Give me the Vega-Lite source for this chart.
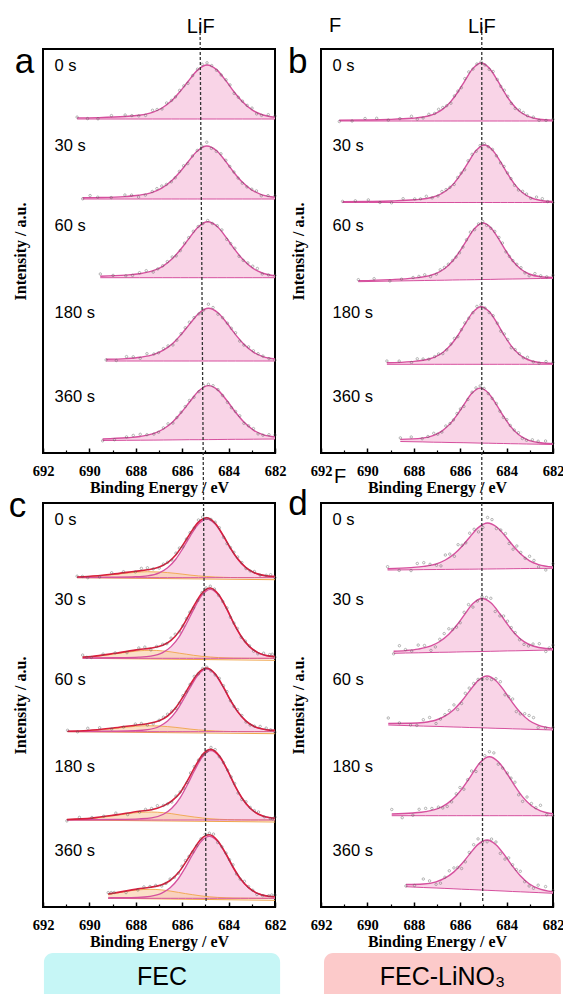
{
"$schema":"https://vega.github.io/schema/vega-lite/v6.json",
"padding":{"left":7,"top":14,"right":0,"bottom":0},
"columns":2,
"spacing":{"row":50,"column":46},
"bounds":"flush",
"config":{
 "view":{"stroke":"#000","strokeWidth":2},
 "axis":{"grid":false,"domain":false,"labelFont":"Liberation Serif","labelFontWeight":"bold","labelFontSize":14.5,"labelColor":"#000","titleFont":"Liberation Serif","titleFontWeight":"bold","titleFontSize":16,"titleColor":"#000","tickColor":"#000"},
 "text":{"font":"Liberation Sans","color":"#000"}
},
"datasets":{
"times":[{"t":"0 s","x":691.5,"y":382},{"t":"30 s","x":691.5,"y":302},{"t":"60 s","x":691.5,"y":222},{"t":"180 s","x":691.5,"y":135},{"t":"360 s","x":691.5,"y":51}],
"bg":[{"t":"0 s","x":690.53,"g":329.3},{"t":"0 s","x":682,"g":327.3},{"t":"30 s","x":690.29,"g":248.7},{"t":"30 s","x":682,"g":246.7},{"t":"60 s","x":690.94,"g":175.3},{"t":"60 s","x":682,"g":173.3},{"t":"180 s","x":690.97,"g":87},{"t":"180 s","x":682,"g":85},{"t":"360 s","x":689.19,"g":8.7},{"t":"360 s","x":682,"g":6.7}],
"pts":[
{"p":"a","x":690.08,"y":334.4},{"p":"a","x":689.05,"y":337.4},{"p":"a","x":688.17,"y":337.4},{"p":"a","x":687.58,"y":337.6},{"p":"a","x":687.08,"y":343.5},{"p":"a","x":686.67,"y":350},{"p":"a","x":686.29,"y":356.1},{"p":"a","x":685.93,"y":367.1},{"p":"a","x":685.55,"y":377.4},{"p":"a","x":685.14,"y":388.7},{"p":"a","x":684.73,"y":387.4},{"p":"a","x":684.32,"y":378},{"p":"a","x":683.94,"y":368.1},{"p":"a","x":683.58,"y":355.7},{"p":"a","x":683.2,"y":347.6},{"p":"a","x":682.79,"y":339.1},{"p":"a","x":682.29,"y":338.3},
{"p":"a","x":689.97,"y":257.4},{"p":"a","x":689.06,"y":255.4},{"p":"a","x":688.18,"y":257.9},{"p":"a","x":687.59,"y":257.9},{"p":"a","x":687.09,"y":264.4},{"p":"a","x":686.68,"y":268.6},{"p":"a","x":686.3,"y":275.2},{"p":"a","x":685.94,"y":287.2},{"p":"a","x":685.56,"y":297},{"p":"a","x":685.15,"y":306.9},{"p":"a","x":684.74,"y":304.6},{"p":"a","x":684.33,"y":299.2},{"p":"a","x":683.95,"y":286.6},{"p":"a","x":683.59,"y":274.9},{"p":"a","x":683.21,"y":266.1},{"p":"a","x":682.8,"y":262.1},{"p":"a","x":682.3,"y":257.4},
{"p":"a","x":688.98,"y":177.6},{"p":"a","x":688.14,"y":177.6},{"p":"a","x":687.55,"y":182.3},{"p":"a","x":687.05,"y":184.1},{"p":"a","x":686.64,"y":191.4},{"p":"a","x":686.26,"y":197.1},{"p":"a","x":685.9,"y":209.9},{"p":"a","x":685.52,"y":221.7},{"p":"a","x":685.11,"y":229.4},{"p":"a","x":684.7,"y":229.5},{"p":"a","x":684.29,"y":223.1},{"p":"a","x":683.91,"y":209.4},{"p":"a","x":683.55,"y":196.7},{"p":"a","x":683.17,"y":190.1},{"p":"a","x":682.76,"y":184.5},{"p":"a","x":682.28,"y":178.1},
{"p":"a","x":688.84,"y":92.5},{"p":"a","x":688.11,"y":96.2},{"p":"a","x":687.52,"y":99.3},{"p":"a","x":687.02,"y":100.2},{"p":"a","x":686.61,"y":107.1},{"p":"a","x":686.23,"y":112.8},{"p":"a","x":685.87,"y":125.2},{"p":"a","x":685.49,"y":135.4},{"p":"a","x":685.08,"y":142.8},{"p":"a","x":684.67,"y":145.5},{"p":"a","x":684.26,"y":135.3},{"p":"a","x":683.88,"y":124.7},{"p":"a","x":683.52,"y":111.9},{"p":"a","x":683.14,"y":106.1},{"p":"a","x":682.73,"y":99.3},{"p":"a","x":682.26,"y":94.4},
{"p":"a","x":688.92,"y":13.3},{"p":"a","x":688.11,"y":17.6},{"p":"a","x":687.52,"y":18.3},{"p":"a","x":687.02,"y":20.8},{"p":"a","x":686.61,"y":29.2},{"p":"a","x":686.23,"y":35.4},{"p":"a","x":685.87,"y":46.4},{"p":"a","x":685.49,"y":55.8},{"p":"a","x":685.08,"y":67.5},{"p":"a","x":684.67,"y":67.3},{"p":"a","x":684.26,"y":57.5},{"p":"a","x":683.88,"y":45.3},{"p":"a","x":683.52,"y":37.2},{"p":"a","x":683.14,"y":27.2},{"p":"a","x":682.73,"y":19.1},{"p":"a","x":682.26,"y":18.3},
{"p":"b","x":690.66,"y":332},{"p":"b","x":689.6,"y":334.7},{"p":"b","x":688.6,"y":334.4},{"p":"b","x":687.85,"y":333.8},{"p":"b","x":687.35,"y":338.7},{"p":"b","x":686.93,"y":343.7},{"p":"b","x":686.58,"y":347.3},{"p":"b","x":686.25,"y":357.1},{"p":"b","x":685.95,"y":365.3},{"p":"b","x":685.63,"y":381.1},{"p":"b","x":685.28,"y":389},{"p":"b","x":684.93,"y":388},{"p":"b","x":684.58,"y":381.5},{"p":"b","x":684.25,"y":366.6},{"p":"b","x":683.95,"y":356.7},{"p":"b","x":683.63,"y":344.5},{"p":"b","x":683.28,"y":340.5},{"p":"b","x":682.85,"y":335.9},{"p":"b","x":682.3,"y":332.6},
{"p":"b","x":690.52,"y":252.2},{"p":"b","x":689.46,"y":250.5},{"p":"b","x":688.46,"y":254.3},{"p":"b","x":687.71,"y":254.1},{"p":"b","x":687.21,"y":255.1},{"p":"b","x":686.79,"y":261.5},{"p":"b","x":686.44,"y":265.7},{"p":"b","x":686.11,"y":275.5},{"p":"b","x":685.81,"y":283.2},{"p":"b","x":685.49,"y":298.7},{"p":"b","x":685.14,"y":307.4},{"p":"b","x":684.79,"y":306.3},{"p":"b","x":684.44,"y":297.2},{"p":"b","x":684.11,"y":286.6},{"p":"b","x":683.81,"y":274.4},{"p":"b","x":683.49,"y":263},{"p":"b","x":683.14,"y":258.9},{"p":"b","x":682.71,"y":255.9},{"p":"b","x":682.23,"y":251.4},
{"p":"b","x":689.71,"y":174.3},{"p":"b","x":688.53,"y":173.8},{"p":"b","x":687.78,"y":176.6},{"p":"b","x":687.28,"y":176.4},{"p":"b","x":686.86,"y":183.2},{"p":"b","x":686.51,"y":188.8},{"p":"b","x":686.18,"y":195.9},{"p":"b","x":685.88,"y":205.9},{"p":"b","x":685.56,"y":220.9},{"p":"b","x":685.21,"y":229.1},{"p":"b","x":684.86,"y":227.6},{"p":"b","x":684.51,"y":221.6},{"p":"b","x":684.18,"y":210},{"p":"b","x":683.88,"y":196.6},{"p":"b","x":683.56,"y":188.7},{"p":"b","x":683.21,"y":180.1},{"p":"b","x":682.78,"y":179.4},{"p":"b","x":682.27,"y":176.2},
{"p":"b","x":688.63,"y":91.9},{"p":"b","x":687.85,"y":94.2},{"p":"b","x":687.35,"y":93.8},{"p":"b","x":686.93,"y":99},{"p":"b","x":686.58,"y":103.1},{"p":"b","x":686.25,"y":114.6},{"p":"b","x":685.95,"y":123.3},{"p":"b","x":685.63,"y":134.8},{"p":"b","x":685.28,"y":146.6},{"p":"b","x":684.93,"y":145},{"p":"b","x":684.58,"y":137.3},{"p":"b","x":684.25,"y":121.8},{"p":"b","x":683.95,"y":113.5},{"p":"b","x":683.63,"y":103.4},{"p":"b","x":683.28,"y":95.2},{"p":"b","x":682.85,"y":91.1},{"p":"b","x":682.3,"y":91.5},
{"p":"b","x":688.11,"y":16},{"p":"b","x":687.39,"y":16.5},{"p":"b","x":686.97,"y":18.8},{"p":"b","x":686.62,"y":27},{"p":"b","x":686.29,"y":33.1},{"p":"b","x":685.99,"y":44.1},{"p":"b","x":685.67,"y":53.5},{"p":"b","x":685.32,"y":65.1},{"p":"b","x":684.97,"y":64.6},{"p":"b","x":684.62,"y":54.5},{"p":"b","x":684.29,"y":41.8},{"p":"b","x":683.99,"y":33.4},{"p":"b","x":683.67,"y":23},{"p":"b","x":683.32,"y":14.5},{"p":"b","x":682.89,"y":13.2},{"p":"b","x":682.32,"y":12},
{"p":"c","x":690.3,"y":330.6},{"p":"c","x":689.56,"y":330},{"p":"c","x":688.53,"y":335.3},{"p":"c","x":687.76,"y":338.6},{"p":"c","x":687.25,"y":338.1},{"p":"c","x":686.81,"y":342.9},{"p":"c","x":686.45,"y":347},{"p":"c","x":686.12,"y":358.9},{"p":"c","x":685.82,"y":368},{"p":"c","x":685.48,"y":379.1},{"p":"c","x":685.12,"y":390},{"p":"c","x":684.76,"y":387.6},{"p":"c","x":684.4,"y":379.3},{"p":"c","x":684.07,"y":363.3},{"p":"c","x":683.77,"y":354.8},{"p":"c","x":683.43,"y":344.4},{"p":"c","x":683.07,"y":336},{"p":"c","x":682.64,"y":331.8},{"p":"c","x":682.19,"y":332.3},
{"p":"c","x":690.11,"y":249.7},{"p":"c","x":689.41,"y":252.9},{"p":"c","x":688.38,"y":254.3},{"p":"c","x":687.61,"y":259.9},{"p":"c","x":687.1,"y":260.6},{"p":"c","x":686.66,"y":263.3},{"p":"c","x":686.3,"y":272.8},{"p":"c","x":685.97,"y":281.2},{"p":"c","x":685.67,"y":294.8},{"p":"c","x":685.33,"y":306.5},{"p":"c","x":684.97,"y":319.1},{"p":"c","x":684.61,"y":317.9},{"p":"c","x":684.25,"y":305.4},{"p":"c","x":683.92,"y":289.7},{"p":"c","x":683.62,"y":278.5},{"p":"c","x":683.28,"y":265.9},{"p":"c","x":682.92,"y":255.8},{"p":"c","x":682.49,"y":253.8},{"p":"c","x":682.12,"y":252.8},
{"p":"c","x":690.51,"y":175.2},{"p":"c","x":689.56,"y":179.2},{"p":"c","x":688.53,"y":179.9},{"p":"c","x":687.76,"y":183.5},{"p":"c","x":687.25,"y":183.1},{"p":"c","x":686.81,"y":189.8},{"p":"c","x":686.45,"y":195.9},{"p":"c","x":686.12,"y":204},{"p":"c","x":685.82,"y":215.2},{"p":"c","x":685.48,"y":230.6},{"p":"c","x":685.12,"y":238.5},{"p":"c","x":684.76,"y":236},{"p":"c","x":684.4,"y":228.6},{"p":"c","x":684.07,"y":215.4},{"p":"c","x":683.77,"y":200.6},{"p":"c","x":683.43,"y":191.5},{"p":"c","x":683.07,"y":181.9},{"p":"c","x":682.64,"y":180.6},{"p":"c","x":682.19,"y":177.2},
{"p":"c","x":690.43,"y":89.6},{"p":"c","x":689.38,"y":90.8},{"p":"c","x":688.35,"y":92.4},{"p":"c","x":687.58,"y":97.6},{"p":"c","x":687.07,"y":101.3},{"p":"c","x":686.63,"y":103.1},{"p":"c","x":686.27,"y":110.9},{"p":"c","x":685.94,"y":118.7},{"p":"c","x":685.64,"y":134},{"p":"c","x":685.3,"y":146.9},{"p":"c","x":684.94,"y":155.5},{"p":"c","x":684.58,"y":157.4},{"p":"c","x":684.22,"y":144.4},{"p":"c","x":683.89,"y":130.1},{"p":"c","x":683.59,"y":113.9},{"p":"c","x":683.25,"y":105.2},{"p":"c","x":682.89,"y":96.4},{"p":"c","x":682.46,"y":90.2},{"p":"c","x":682.1,"y":88.1},
{"p":"c","x":689.06,"y":14.4},{"p":"c","x":688.42,"y":14.4},{"p":"c","x":687.65,"y":20.1},{"p":"c","x":687.14,"y":21.6},{"p":"c","x":686.7,"y":23.6},{"p":"c","x":686.34,"y":29.6},{"p":"c","x":686.01,"y":40.8},{"p":"c","x":685.71,"y":50.5},{"p":"c","x":685.37,"y":61.3},{"p":"c","x":685.01,"y":72.6},{"p":"c","x":684.65,"y":72.9},{"p":"c","x":684.29,"y":60.2},{"p":"c","x":683.96,"y":47.3},{"p":"c","x":683.66,"y":33},{"p":"c","x":683.32,"y":25.7},{"p":"c","x":682.96,"y":16.8},{"p":"c","x":682.53,"y":11.3},{"p":"c","x":682.14,"y":12},
{"p":"d","x":688.63,"y":336.6},{"p":"d","x":687.85,"y":343.5},{"p":"d","x":687.3,"y":342.7},{"p":"d","x":686.83,"y":341.1},{"p":"d","x":686.45,"y":352.9},{"p":"d","x":686.09,"y":362.3},{"p":"d","x":685.76,"y":364.1},{"p":"d","x":685.4,"y":377.7},{"p":"d","x":685.02,"y":379.6},{"p":"d","x":684.63,"y":387.4},{"p":"d","x":684.25,"y":377},{"p":"d","x":683.89,"y":363.5},{"p":"d","x":683.56,"y":361},{"p":"d","x":683.2,"y":348.7},{"p":"d","x":682.82,"y":346.6},{"p":"d","x":682.31,"y":337},
{"p":"d","x":688.62,"y":261.3},{"p":"d","x":688.09,"y":255.9},{"p":"d","x":687.54,"y":261.5},{"p":"d","x":687.07,"y":260.1},{"p":"d","x":686.69,"y":273.4},{"p":"d","x":686.33,"y":277.6},{"p":"d","x":686,"y":284.2},{"p":"d","x":685.64,"y":302.4},{"p":"d","x":685.26,"y":305.9},{"p":"d","x":684.87,"y":309.6},{"p":"d","x":684.49,"y":295.5},{"p":"d","x":684.13,"y":291},{"p":"d","x":683.8,"y":279.4},{"p":"d","x":683.44,"y":267.3},{"p":"d","x":683.06,"y":261},{"p":"d","x":682.59,"y":263.3},{"p":"d","x":682.16,"y":259.1},
{"p":"d","x":688.62,"y":184.1},{"p":"d","x":687.87,"y":181.6},{"p":"d","x":687.32,"y":189.5},{"p":"d","x":686.85,"y":187.9},{"p":"d","x":686.47,"y":196.5},{"p":"d","x":686.11,"y":197.5},{"p":"d","x":685.78,"y":213.7},{"p":"d","x":685.42,"y":223.5},{"p":"d","x":685.04,"y":227.7},{"p":"d","x":684.65,"y":227.4},{"p":"d","x":684.27,"y":225.3},{"p":"d","x":683.91,"y":210.5},{"p":"d","x":683.58,"y":195.4},{"p":"d","x":683.22,"y":193.3},{"p":"d","x":682.84,"y":189.4},{"p":"d","x":682.32,"y":179},
{"p":"d","x":688.5,"y":89.3},{"p":"d","x":687.77,"y":97.7},{"p":"d","x":687.22,"y":98.5},{"p":"d","x":686.75,"y":99},{"p":"d","x":686.37,"y":105.1},{"p":"d","x":686.01,"y":119.5},{"p":"d","x":685.68,"y":127.3},{"p":"d","x":685.32,"y":135.5},{"p":"d","x":684.94,"y":151.3},{"p":"d","x":684.55,"y":154.1},{"p":"d","x":684.17,"y":138.9},{"p":"d","x":683.81,"y":128.9},{"p":"d","x":683.48,"y":112.2},{"p":"d","x":683.12,"y":110},{"p":"d","x":682.74,"y":99.3},{"p":"d","x":682.27,"y":92.2},
{"p":"d","x":687.97,"y":21.5},{"p":"d","x":687.32,"y":26.1},{"p":"d","x":686.85,"y":23.8},{"p":"d","x":686.47,"y":36.2},{"p":"d","x":686.11,"y":39.6},{"p":"d","x":685.78,"y":45.2},{"p":"d","x":685.42,"y":62.3},{"p":"d","x":685.04,"y":64.8},{"p":"d","x":684.65,"y":67.9},{"p":"d","x":684.27,"y":53.6},{"p":"d","x":683.91,"y":49.1},{"p":"d","x":683.58,"y":37.5},{"p":"d","x":683.22,"y":25.3},{"p":"d","x":682.84,"y":18.7},{"p":"d","x":682.32,"y":20.4}
],
"fit":[
{"p":"a","t":"0 s","x":690.53,"f":335.1,"b":334,"s":335.9},
{"p":"a","t":"0 s","x":689.63,"f":335.4,"b":334,"s":334.2},
{"p":"a","t":"0 s","x":688.46,"f":336.5,"b":334,"s":338},
{"p":"a","t":"0 s","x":687.87,"f":337.7,"b":334,"s":337.1},
{"p":"a","t":"0 s","x":687.28,"f":340.7,"b":334,"s":342.7},
{"p":"a","t":"0 s","x":686.87,"f":345,"b":334,"s":344},
{"p":"a","t":"0 s","x":686.46,"f":352.2,"b":334,"s":352.6},
{"p":"a","t":"0 s","x":686.11,"f":361,"b":334,"s":362.6},
{"p":"a","t":"0 s","x":685.75,"f":371.5,"b":334,"s":369.7},
{"p":"a","t":"0 s","x":685.34,"f":382.9,"b":334,"s":383.8},
{"p":"a","t":"0 s","x":684.93,"f":388,"b":334,"s":390.2},
{"p":"a","t":"0 s","x":684.52,"f":383.4,"b":334,"s":382.7},
{"p":"a","t":"0 s","x":684.11,"f":372.1,"b":334,"s":373.2},
{"p":"a","t":"0 s","x":683.76,"f":361,"b":334,"s":359.6},
{"p":"a","t":"0 s","x":683.4,"f":351.2,"b":334,"s":351.8},
{"p":"a","t":"0 s","x":682.99,"f":343.1,"b":334,"s":344.9},
{"p":"a","t":"0 s","x":682.58,"f":338.5,"b":334,"s":337.6},
{"p":"a","t":"0 s","x":682,"f":335.7,"b":334,"s":337},
{"p":"a","t":"30 s","x":690.29,"f":255.2,"b":254,"s":254.2},
{"p":"a","t":"30 s","x":689.64,"f":255.4,"b":254,"s":255.8},
{"p":"a","t":"30 s","x":688.47,"f":256.4,"b":254,"s":258},
{"p":"a","t":"30 s","x":687.88,"f":257.7,"b":254,"s":255.9},
{"p":"a","t":"30 s","x":687.29,"f":260.6,"b":254,"s":261.5},
{"p":"a","t":"30 s","x":686.88,"f":264.8,"b":254,"s":267},
{"p":"a","t":"30 s","x":686.47,"f":271.9,"b":254,"s":271.2},
{"p":"a","t":"30 s","x":686.12,"f":280.5,"b":254,"s":281.6},
{"p":"a","t":"30 s","x":685.76,"f":290.8,"b":254,"s":289.4},
{"p":"a","t":"30 s","x":685.35,"f":302,"b":254,"s":302.6},
{"p":"a","t":"30 s","x":684.94,"f":307,"b":254,"s":310.8},
{"p":"a","t":"30 s","x":684.53,"f":302.5,"b":254,"s":301.6},
{"p":"a","t":"30 s","x":684.12,"f":291.4,"b":254,"s":292.7},
{"p":"a","t":"30 s","x":683.77,"f":280.5,"b":254,"s":281},
{"p":"a","t":"30 s","x":683.41,"f":270.9,"b":254,"s":269.8},
{"p":"a","t":"30 s","x":683,"f":263,"b":254,"s":263.8},
{"p":"a","t":"30 s","x":682.59,"f":258.4,"b":254,"s":257.2},
{"p":"a","t":"30 s","x":682,"f":255.7,"b":254,"s":257.2},
{"p":"a","t":"60 s","x":689.53,"f":176.8,"b":175.3,"s":179},
{"p":"a","t":"60 s","x":688.43,"f":177.9,"b":175.3,"s":177.2},
{"p":"a","t":"60 s","x":687.84,"f":179.2,"b":175.3,"s":180.3},
{"p":"a","t":"60 s","x":687.25,"f":182.3,"b":175.3,"s":180.9},
{"p":"a","t":"60 s","x":686.84,"f":186.7,"b":175.3,"s":187.3},
{"p":"a","t":"60 s","x":686.43,"f":194.2,"b":175.3,"s":196},
{"p":"a","t":"60 s","x":686.08,"f":203.3,"b":175.3,"s":202.4},
{"p":"a","t":"60 s","x":685.72,"f":214.1,"b":175.3,"s":215.4},
{"p":"a","t":"60 s","x":685.31,"f":226,"b":175.3,"s":226.5},
{"p":"a","t":"60 s","x":684.9,"f":231.3,"b":175.3,"s":232.5},
{"p":"a","t":"60 s","x":684.49,"f":226.5,"b":175.3,"s":227.3},
{"p":"a","t":"60 s","x":684.08,"f":214.8,"b":175.3,"s":213.6},
{"p":"a","t":"60 s","x":683.73,"f":203.3,"b":175.3,"s":204.8},
{"p":"a","t":"60 s","x":683.37,"f":193.2,"b":175.3,"s":192.6},
{"p":"a","t":"60 s","x":682.96,"f":184.8,"b":175.3,"s":186.8},
{"p":"a","t":"60 s","x":682.55,"f":180,"b":175.3,"s":179},
{"p":"a","t":"60 s","x":682,"f":177.2,"b":175.3,"s":177.6},
{"p":"a","t":"180 s","x":689.28,"f":93.7,"b":92,"s":93.1},
{"p":"a","t":"180 s","x":688.4,"f":94.4,"b":92,"s":96.4},
{"p":"a","t":"180 s","x":687.81,"f":95.7,"b":92,"s":94.7},
{"p":"a","t":"180 s","x":687.22,"f":98.6,"b":92,"s":99},
{"p":"a","t":"180 s","x":686.81,"f":102.8,"b":92,"s":104.4},
{"p":"a","t":"180 s","x":686.4,"f":109.8,"b":92,"s":108},
{"p":"a","t":"180 s","x":686.05,"f":118.4,"b":92,"s":119.3},
{"p":"a","t":"180 s","x":685.69,"f":128.6,"b":92,"s":130.8},
{"p":"a","t":"180 s","x":685.28,"f":139.8,"b":92,"s":139.1},
{"p":"a","t":"180 s","x":684.87,"f":144.7,"b":92,"s":148.8},
{"p":"a","t":"180 s","x":684.46,"f":140.2,"b":92,"s":138.8},
{"p":"a","t":"180 s","x":684.05,"f":129.2,"b":92,"s":129.8},
{"p":"a","t":"180 s","x":683.7,"f":118.4,"b":92,"s":120.2},
{"p":"a","t":"180 s","x":683.34,"f":108.8,"b":92,"s":107.9},
{"p":"a","t":"180 s","x":682.93,"f":100.9,"b":92,"s":102.2},
{"p":"a","t":"180 s","x":682.52,"f":96.4,"b":92,"s":96.9},
{"p":"a","t":"180 s","x":682,"f":94,"b":92,"s":92.9},
{"p":"a","t":"360 s","x":689.43,"f":14,"b":12.5,"s":12.2},
{"p":"a","t":"360 s","x":688.4,"f":15.2,"b":12.7,"s":16.1},
{"p":"a","t":"360 s","x":687.81,"f":16.5,"b":12.8,"s":18.7},
{"p":"a","t":"360 s","x":687.22,"f":19.6,"b":12.9,"s":18.9},
{"p":"a","t":"360 s","x":686.81,"f":24,"b":13,"s":25.1},
{"p":"a","t":"360 s","x":686.4,"f":31.3,"b":13.1,"s":29.9},
{"p":"a","t":"360 s","x":686.05,"f":40.2,"b":13.2,"s":40.8},
{"p":"a","t":"360 s","x":685.69,"f":50.7,"b":13.3,"s":52.5},
{"p":"a","t":"360 s","x":685.28,"f":62.2,"b":13.3,"s":61.3},
{"p":"a","t":"360 s","x":684.87,"f":67.4,"b":13.4,"s":68.7},
{"p":"a","t":"360 s","x":684.46,"f":62.9,"b":13.5,"s":63.4},
{"p":"a","t":"360 s","x":684.05,"f":51.7,"b":13.6,"s":50.6},
{"p":"a","t":"360 s","x":683.7,"f":40.7,"b":13.7,"s":41.5},
{"p":"a","t":"360 s","x":683.34,"f":30.9,"b":13.7,"s":29.7},
{"p":"a","t":"360 s","x":682.93,"f":22.9,"b":13.8,"s":24.4},
{"p":"a","t":"360 s","x":682.52,"f":18.4,"b":13.9,"s":17.8},
{"p":"a","t":"360 s","x":682,"f":16,"b":14,"s":18},
{"p":"b","t":"0 s","x":691.21,"f":332.7,"b":332,"s":331.5},
{"p":"b","t":"0 s","x":690.1,"f":333,"b":332,"s":334.5},
{"p":"b","t":"0 s","x":689.1,"f":333.5,"b":332,"s":332.9},
{"p":"b","t":"0 s","x":688.1,"f":334.7,"b":332,"s":336.7},
{"p":"b","t":"0 s","x":687.6,"f":336,"b":332,"s":335},
{"p":"b","t":"0 s","x":687.1,"f":339.2,"b":332,"s":339.6},
{"p":"b","t":"0 s","x":686.75,"f":343.9,"b":332,"s":345.5},
{"p":"b","t":"0 s","x":686.4,"f":351.6,"b":332,"s":349.8},
{"p":"b","t":"0 s","x":686.1,"f":361,"b":332,"s":361.9},
{"p":"b","t":"0 s","x":685.8,"f":372.2,"b":332,"s":374.4},
{"p":"b","t":"0 s","x":685.45,"f":384.6,"b":332,"s":383.9},
{"p":"b","t":"0 s","x":685.1,"f":390,"b":332,"s":391.1},
{"p":"b","t":"0 s","x":684.75,"f":385,"b":332,"s":383.6},
{"p":"b","t":"0 s","x":684.4,"f":372.9,"b":332,"s":373.5},
{"p":"b","t":"0 s","x":684.1,"f":361,"b":332,"s":362.8},
{"p":"b","t":"0 s","x":683.8,"f":350.5,"b":332,"s":349.6},
{"p":"b","t":"0 s","x":683.45,"f":341.8,"b":332,"s":343.1},
{"p":"b","t":"0 s","x":683.1,"f":336.8,"b":332,"s":337.3},
{"p":"b","t":"0 s","x":682.6,"f":333.8,"b":332,"s":332.7},
{"p":"b","t":"0 s","x":682,"f":332.9,"b":332,"s":333.7},
{"p":"b","t":"30 s","x":691.07,"f":251.2,"b":250.5,"s":251.6},
{"p":"b","t":"30 s","x":689.96,"f":251.5,"b":250.5,"s":253.1},
{"p":"b","t":"30 s","x":688.96,"f":252,"b":250.5,"s":250.2},
{"p":"b","t":"30 s","x":687.96,"f":253.2,"b":250.5,"s":254.1},
{"p":"b","t":"30 s","x":687.46,"f":254.5,"b":250.5,"s":256.7},
{"p":"b","t":"30 s","x":686.96,"f":257.7,"b":250.5,"s":257},
{"p":"b","t":"30 s","x":686.61,"f":262.3,"b":250.5,"s":263.4},
{"p":"b","t":"30 s","x":686.26,"f":269.9,"b":250.5,"s":268.5},
{"p":"b","t":"30 s","x":685.96,"f":279.3,"b":250.5,"s":279.9},
{"p":"b","t":"30 s","x":685.66,"f":290.4,"b":250.5,"s":292.2},
{"p":"b","t":"30 s","x":685.31,"f":302.6,"b":250.5,"s":301.7},
{"p":"b","t":"30 s","x":684.96,"f":308,"b":250.5,"s":309.3},
{"p":"b","t":"30 s","x":684.61,"f":303.1,"b":250.5,"s":303.6},
{"p":"b","t":"30 s","x":684.26,"f":291.1,"b":250.5,"s":290},
{"p":"b","t":"30 s","x":683.96,"f":279.3,"b":250.5,"s":280.1},
{"p":"b","t":"30 s","x":683.66,"f":268.9,"b":250.5,"s":267.7},
{"p":"b","t":"30 s","x":683.31,"f":260.2,"b":250.5,"s":261.7},
{"p":"b","t":"30 s","x":682.96,"f":255.3,"b":250.5,"s":254.7},
{"p":"b","t":"30 s","x":682.46,"f":252.3,"b":250.5,"s":254.3},
{"p":"b","t":"30 s","x":682,"f":251.5,"b":250.5,"s":250.5},
{"p":"b","t":"60 s","x":690.39,"f":172.2,"b":171.3,"s":173.3},
{"p":"b","t":"60 s","x":689.03,"f":173.4,"b":171.9,"s":172},
{"p":"b","t":"60 s","x":688.03,"f":174.9,"b":172.3,"s":175.5},
{"p":"b","t":"60 s","x":687.53,"f":176.4,"b":172.5,"s":178.2},
{"p":"b","t":"60 s","x":687.03,"f":179.7,"b":172.7,"s":178.8},
{"p":"b","t":"60 s","x":686.68,"f":184.3,"b":172.8,"s":185.6},
{"p":"b","t":"60 s","x":686.33,"f":192,"b":173,"s":192.5},
{"p":"b","t":"60 s","x":686.03,"f":201.3,"b":173.1,"s":200.2},
{"p":"b","t":"60 s","x":685.73,"f":212.4,"b":173.2,"s":213.2},
{"p":"b","t":"60 s","x":685.38,"f":224.5,"b":173.3,"s":223.3},
{"p":"b","t":"60 s","x":685.03,"f":230,"b":173.5,"s":231.5},
{"p":"b","t":"60 s","x":684.68,"f":225.3,"b":173.6,"s":224.7},
{"p":"b","t":"60 s","x":684.33,"f":213.6,"b":173.8,"s":215.6},
{"p":"b","t":"60 s","x":684.03,"f":202.1,"b":173.9,"s":201.1},
{"p":"b","t":"60 s","x":683.73,"f":192,"b":174,"s":192.4},
{"p":"b","t":"60 s","x":683.38,"f":183.7,"b":174.1,"s":185.3},
{"p":"b","t":"60 s","x":683.03,"f":179,"b":174.3,"s":177.2},
{"p":"b","t":"60 s","x":682.53,"f":176.3,"b":174.5,"s":177.2},
{"p":"b","t":"60 s","x":682,"f":175.6,"b":174.7,"s":177.8},
{"p":"b","t":"180 s","x":689.16,"f":90.2,"b":88.7,"s":92},
{"p":"b","t":"180 s","x":688.1,"f":91.4,"b":88.7,"s":90.5},
{"p":"b","t":"180 s","x":687.6,"f":92.7,"b":88.7,"s":94},
{"p":"b","t":"180 s","x":687.1,"f":95.9,"b":88.7,"s":96.4},
{"p":"b","t":"180 s","x":686.75,"f":100.5,"b":88.7,"s":99.4},
{"p":"b","t":"180 s","x":686.4,"f":108.2,"b":88.7,"s":109},
{"p":"b","t":"180 s","x":686.1,"f":117.5,"b":88.7,"s":116.3},
{"p":"b","t":"180 s","x":685.8,"f":128.6,"b":88.7,"s":130.1},
{"p":"b","t":"180 s","x":685.45,"f":140.9,"b":88.7,"s":140.3},
{"p":"b","t":"180 s","x":685.1,"f":146.3,"b":88.7,"s":148.3},
{"p":"b","t":"180 s","x":684.75,"f":141.4,"b":88.7,"s":140.4},
{"p":"b","t":"180 s","x":684.4,"f":129.4,"b":88.7,"s":129.8},
{"p":"b","t":"180 s","x":684.1,"f":117.5,"b":88.7,"s":119.1},
{"p":"b","t":"180 s","x":683.8,"f":107.1,"b":88.7,"s":105.3},
{"p":"b","t":"180 s","x":683.45,"f":98.5,"b":88.7,"s":99.4},
{"p":"b","t":"180 s","x":683.1,"f":93.5,"b":88.7,"s":95.7},
{"p":"b","t":"180 s","x":682.6,"f":90.5,"b":88.7,"s":89.8},
{"p":"b","t":"180 s","x":682,"f":89.6,"b":88.7,"s":90.7},
{"p":"b","t":"360 s","x":688.58,"f":13.6,"b":11.5,"s":15.1},
{"p":"b","t":"360 s","x":687.64,"f":14.9,"b":11.1,"s":14.3},
{"p":"b","t":"360 s","x":687.14,"f":17.7,"b":10.8,"s":19.7},
{"p":"b","t":"360 s","x":686.79,"f":21.9,"b":10.7,"s":20.9},
{"p":"b","t":"360 s","x":686.44,"f":29.1,"b":10.5,"s":29.5},
{"p":"b","t":"360 s","x":686.14,"f":37.9,"b":10.4,"s":39.5},
{"p":"b","t":"360 s","x":685.84,"f":48.4,"b":10.3,"s":46.6},
{"p":"b","t":"360 s","x":685.49,"f":59.9,"b":10.1,"s":60.8},
{"p":"b","t":"360 s","x":685.14,"f":64.9,"b":9.9,"s":67.1},
{"p":"b","t":"360 s","x":684.79,"f":60.1,"b":9.8,"s":59.4},
{"p":"b","t":"360 s","x":684.44,"f":48.4,"b":9.6,"s":49.5},
{"p":"b","t":"360 s","x":684.14,"f":37,"b":9.5,"s":35.6},
{"p":"b","t":"360 s","x":683.84,"f":26.9,"b":9.3,"s":27.5},
{"p":"b","t":"360 s","x":683.49,"f":18.5,"b":9.2,"s":20.3},
{"p":"b","t":"360 s","x":683.14,"f":13.6,"b":9,"s":12.7},
{"p":"b","t":"360 s","x":682.64,"f":10.5,"b":8.8,"s":11.8},
{"p":"b","t":"360 s","x":682,"f":9.3,"b":8.5,"s":9.8},
{"p":"c","t":"0 s","x":690.53,"f":329.6,"o":329.7,"e":330,"b":329.3,"s":330.8},
{"p":"c","t":"0 s","x":690.07,"f":329.6,"o":330.2,"e":330.5,"b":329.3,"s":329.3},
{"p":"c","t":"0 s","x":689.04,"f":329.8,"o":332.2,"e":332.7,"b":329.3,"s":334.2},
{"p":"c","t":"0 s","x":688.02,"f":330.3,"o":334.7,"e":335.7,"b":329.3,"s":335.1},
{"p":"c","t":"0 s","x":687.5,"f":331.2,"o":335.3,"e":337.2,"b":329.3,"s":339.2},
{"p":"c","t":"0 s","x":686.99,"f":334.2,"o":335,"e":339.9,"b":329.3,"s":338.9},
{"p":"c","t":"0 s","x":686.63,"f":339.2,"o":334.4,"e":344.3,"b":329.3,"s":344.7},
{"p":"c","t":"0 s","x":686.27,"f":348,"o":333.6,"e":352.3,"b":329.3,"s":353.9},
{"p":"c","t":"0 s","x":685.97,"f":358.7,"o":332.8,"e":362.1,"b":329.3,"s":360.3},
{"p":"c","t":"0 s","x":685.66,"f":370.7,"o":331.9,"e":373.4,"b":329.3,"s":374.3},
{"p":"c","t":"0 s","x":685.3,"f":383,"o":331.1,"e":384.8,"b":329.3,"s":387},
{"p":"c","t":"0 s","x":684.94,"f":388,"o":330.5,"e":389.2,"b":329.3,"s":388.5},
{"p":"c","t":"0 s","x":684.58,"f":383,"o":330,"e":383.7,"b":329.3,"s":384.8},
{"p":"c","t":"0 s","x":684.22,"f":370.7,"o":329.7,"e":371.1,"b":329.3,"s":369.7},
{"p":"c","t":"0 s","x":683.92,"f":358.7,"o":329.5,"e":358.9,"b":329.3,"s":359.5},
{"p":"c","t":"0 s","x":683.61,"f":348,"o":329.4,"e":348.2,"b":329.3,"s":350},
{"p":"c","t":"0 s","x":683.25,"f":339.2,"o":329.3,"e":339.3,"b":329.3,"s":338.4},
{"p":"c","t":"0 s","x":682.89,"f":334.2,"o":329.3,"e":334.2,"b":329.3,"s":335.5},
{"p":"c","t":"0 s","x":682.38,"f":331.2,"o":329.3,"e":331.2,"b":329.3,"s":331.7},
{"p":"c","t":"0 s","x":682,"f":330.5,"o":329.3,"e":330.5,"b":329.3,"s":329.4},
{"p":"c","t":"30 s","x":690.29,"f":249.1,"o":249.5,"e":249.9,"b":248.7,"s":251.9},
{"p":"c","t":"30 s","x":689.92,"f":249.1,"o":250.1,"e":250.5,"b":248.7,"s":249.5},
{"p":"c","t":"30 s","x":688.89,"f":249.3,"o":253.1,"e":253.7,"b":248.7,"s":254.1},
{"p":"c","t":"30 s","x":687.87,"f":249.9,"o":256.2,"e":257.4,"b":248.7,"s":259},
{"p":"c","t":"30 s","x":687.35,"f":250.9,"o":256.7,"e":258.9,"b":248.7,"s":257.1},
{"p":"c","t":"30 s","x":686.84,"f":254.4,"o":256.1,"e":261.8,"b":248.7,"s":262.7},
{"p":"c","t":"30 s","x":686.48,"f":260.4,"o":255.1,"e":266.7,"b":248.7,"s":268.9},
{"p":"c","t":"30 s","x":686.12,"f":270.7,"o":253.8,"e":275.9,"b":248.7,"s":275.2},
{"p":"c","t":"30 s","x":685.82,"f":283.2,"o":252.8,"e":287.3,"b":248.7,"s":288.4},
{"p":"c","t":"30 s","x":685.51,"f":297.4,"o":251.7,"e":300.5,"b":248.7,"s":299.1},
{"p":"c","t":"30 s","x":685.15,"f":311.8,"o":250.7,"e":313.8,"b":248.7,"s":314.4},
{"p":"c","t":"30 s","x":684.79,"f":317.7,"o":250,"e":319,"b":248.7,"s":320.8},
{"p":"c","t":"30 s","x":684.43,"f":311.8,"o":249.4,"e":312.5,"b":248.7,"s":311.6},
{"p":"c","t":"30 s","x":684.07,"f":297.4,"o":249.1,"e":297.8,"b":248.7,"s":299.1},
{"p":"c","t":"30 s","x":683.77,"f":283.2,"o":248.9,"e":283.4,"b":248.7,"s":283.9},
{"p":"c","t":"30 s","x":683.46,"f":270.7,"o":248.8,"e":270.8,"b":248.7,"s":269.7},
{"p":"c","t":"30 s","x":683.1,"f":260.4,"o":248.7,"e":260.4,"b":248.7,"s":261.2},
{"p":"c","t":"30 s","x":682.74,"f":254.4,"o":248.7,"e":254.4,"b":248.7,"s":253.2},
{"p":"c","t":"30 s","x":682.23,"f":250.9,"o":248.7,"e":250.9,"b":248.7,"s":252.4},
{"p":"c","t":"30 s","x":682,"f":250.4,"o":248.7,"e":250.4,"b":248.7,"s":249.8},
{"p":"c","t":"60 s","x":690.94,"f":175.6,"o":175.5,"e":175.8,"b":175.3,"s":176.7},
{"p":"c","t":"60 s","x":690.07,"f":175.7,"o":176.2,"e":176.5,"b":175.3,"s":178.7},
{"p":"c","t":"60 s","x":689.04,"f":175.9,"o":178.2,"e":178.8,"b":175.3,"s":178.1},
{"p":"c","t":"60 s","x":688.02,"f":176.3,"o":180.7,"e":181.8,"b":175.3,"s":182.9},
{"p":"c","t":"60 s","x":687.5,"f":177.3,"o":181.3,"e":183.3,"b":175.3,"s":181.9},
{"p":"c","t":"60 s","x":686.99,"f":180.5,"o":181,"e":186.2,"b":175.3,"s":186.8},
{"p":"c","t":"60 s","x":686.63,"f":185.9,"o":180.4,"e":191,"b":175.3,"s":192.8},
{"p":"c","t":"60 s","x":686.27,"f":195.3,"o":179.6,"e":199.5,"b":175.3,"s":198.6},
{"p":"c","t":"60 s","x":685.97,"f":206.6,"o":178.8,"e":210,"b":175.3,"s":211.3},
{"p":"c","t":"60 s","x":685.66,"f":219.4,"o":177.9,"e":222.1,"b":175.3,"s":222.6},
{"p":"c","t":"60 s","x":685.3,"f":232.5,"o":177.1,"e":234.3,"b":175.3,"s":233.2},
{"p":"c","t":"60 s","x":684.94,"f":237.8,"o":176.5,"e":239,"b":175.3,"s":239.8},
{"p":"c","t":"60 s","x":684.58,"f":232.5,"o":176,"e":233.2,"b":175.3,"s":232},
{"p":"c","t":"60 s","x":684.22,"f":219.4,"o":175.7,"e":219.8,"b":175.3,"s":221.3},
{"p":"c","t":"60 s","x":683.92,"f":206.6,"o":175.5,"e":206.8,"b":175.3,"s":206.2},
{"p":"c","t":"60 s","x":683.61,"f":195.3,"o":175.4,"e":195.4,"b":175.3,"s":197.4},
{"p":"c","t":"60 s","x":683.25,"f":185.9,"o":175.3,"e":185.9,"b":175.3,"s":184.9},
{"p":"c","t":"60 s","x":682.89,"f":180.5,"o":175.3,"e":180.5,"b":175.3,"s":180.9},
{"p":"c","t":"60 s","x":682.38,"f":177.3,"o":175.3,"e":177.3,"b":175.3,"s":178.9},
{"p":"c","t":"60 s","x":682,"f":176.6,"o":175.3,"e":176.6,"b":175.3,"s":174.8},
{"p":"c","t":"180 s","x":690.97,"f":87.2,"o":87.3,"e":87.5,"b":87,"s":86.1},
{"p":"c","t":"180 s","x":689.89,"f":87.4,"o":88.5,"e":88.9,"b":87,"s":89.5},
{"p":"c","t":"180 s","x":688.86,"f":87.6,"o":91.5,"e":92.1,"b":87,"s":93.9},
{"p":"c","t":"180 s","x":687.84,"f":88.2,"o":94.6,"e":95.8,"b":87,"s":94.9},
{"p":"c","t":"180 s","x":687.32,"f":89.2,"o":95,"e":97.2,"b":87,"s":98.5},
{"p":"c","t":"180 s","x":686.81,"f":92.8,"o":94.3,"e":101.1,"b":87,"s":101.6},
{"p":"c","t":"180 s","x":686.45,"f":98.7,"o":93.3,"e":106,"b":87,"s":104.9},
{"p":"c","t":"180 s","x":686.09,"f":109.2,"o":92,"e":114.2,"b":87,"s":115},
{"p":"c","t":"180 s","x":685.79,"f":121.7,"o":91,"e":125.7,"b":87,"s":124.5},
{"p":"c","t":"180 s","x":685.48,"f":136,"o":90,"e":138.9,"b":87,"s":140.4},
{"p":"c","t":"180 s","x":685.12,"f":150.5,"o":89,"e":152.4,"b":87,"s":151.8},
{"p":"c","t":"180 s","x":684.76,"f":156.4,"o":88.2,"e":157.6,"b":87,"s":159.6},
{"p":"c","t":"180 s","x":684.4,"f":150.5,"o":87.7,"e":151.2,"b":87,"s":150.2},
{"p":"c","t":"180 s","x":684.04,"f":136,"o":87.4,"e":136.4,"b":87,"s":136.8},
{"p":"c","t":"180 s","x":683.74,"f":121.7,"o":87.2,"e":121.9,"b":87,"s":123.5},
{"p":"c","t":"180 s","x":683.43,"f":109.2,"o":87.1,"e":109.3,"b":87,"s":107.5},
{"p":"c","t":"180 s","x":683.07,"f":98.7,"o":87,"e":98.7,"b":87,"s":99.6},
{"p":"c","t":"180 s","x":682.71,"f":92.8,"o":87,"e":92.8,"b":87,"s":95},
{"p":"c","t":"180 s","x":682.2,"f":89.2,"o":87,"e":89.2,"b":87,"s":88.5},
{"p":"c","t":"180 s","x":682,"f":88.8,"o":87,"e":88.8,"b":87,"s":89.9},
{"p":"c","t":"360 s","x":689.19,"f":9.2,"o":12.5,"e":13,"b":8.7,"s":14.3},
{"p":"c","t":"360 s","x":688.93,"f":9.3,"o":13.5,"e":14,"b":8.7,"s":14.5},
{"p":"c","t":"360 s","x":687.91,"f":9.7,"o":17.1,"e":18.1,"b":8.7,"s":17},
{"p":"c","t":"360 s","x":687.39,"f":10.7,"o":17.7,"e":19.7,"b":8.7,"s":20.5},
{"p":"c","t":"360 s","x":686.88,"f":13.9,"o":17.1,"e":22.2,"b":8.7,"s":21},
{"p":"c","t":"360 s","x":686.52,"f":19.2,"o":16,"e":26.5,"b":8.7,"s":28},
{"p":"c","t":"360 s","x":686.16,"f":28.5,"o":14.6,"e":34.4,"b":8.7,"s":33.8},
{"p":"c","t":"360 s","x":685.86,"f":39.7,"o":13.4,"e":44.4,"b":8.7,"s":46.4},
{"p":"c","t":"360 s","x":685.55,"f":52.5,"o":12.3,"e":56,"b":8.7,"s":55},
{"p":"c","t":"360 s","x":685.19,"f":65.4,"o":11.1,"e":67.8,"b":8.7,"s":68.2},
{"p":"c","t":"360 s","x":684.83,"f":70.7,"o":10.2,"e":72.2,"b":8.7,"s":73.8},
{"p":"c","t":"360 s","x":684.47,"f":65.4,"o":9.6,"e":66.3,"b":8.7,"s":64.5},
{"p":"c","t":"360 s","x":684.11,"f":52.5,"o":9.2,"e":53,"b":8.7,"s":53.9},
{"p":"c","t":"360 s","x":683.81,"f":39.7,"o":9,"e":40,"b":8.7,"s":42.2},
{"p":"c","t":"360 s","x":683.5,"f":28.5,"o":8.9,"e":28.6,"b":8.7,"s":27.9},
{"p":"c","t":"360 s","x":683.14,"f":19.2,"o":8.8,"e":19.3,"b":8.7,"s":20.4},
{"p":"c","t":"360 s","x":682.78,"f":13.9,"o":8.7,"e":13.9,"b":8.7,"s":12.5},
{"p":"c","t":"360 s","x":682.27,"f":10.7,"o":8.7,"e":10.7,"b":8.7,"s":11.3},
{"p":"c","t":"360 s","x":682,"f":10.2,"o":8.7,"e":10.2,"b":8.7,"s":12},
{"p":"d","t":"0 s","x":689.13,"f":338.3,"b":337,"s":340.3},
{"p":"d","t":"0 s","x":688.12,"f":339.4,"b":337.2,"s":336.4},
{"p":"d","t":"0 s","x":687.57,"f":340.6,"b":337.4,"s":344.3},
{"p":"d","t":"0 s","x":687.02,"f":343.2,"b":337.5,"s":341.7},
{"p":"d","t":"0 s","x":686.64,"f":347,"b":337.6,"s":352},
{"p":"d","t":"0 s","x":686.25,"f":353.2,"b":337.7,"s":350.7},
{"p":"d","t":"0 s","x":685.92,"f":360.8,"b":337.8,"s":361.8},
{"p":"d","t":"0 s","x":685.59,"f":369.8,"b":337.8,"s":373.8},
{"p":"d","t":"0 s","x":685.21,"f":379.6,"b":337.9,"s":375.1},
{"p":"d","t":"0 s","x":684.82,"f":384,"b":338,"s":389.5},
{"p":"d","t":"0 s","x":684.44,"f":380.2,"b":338.1,"s":378.4},
{"p":"d","t":"0 s","x":684.05,"f":370.7,"b":338.2,"s":373.4},
{"p":"d","t":"0 s","x":683.72,"f":361.3,"b":338.3,"s":357.8},
{"p":"d","t":"0 s","x":683.39,"f":353.1,"b":338.4,"s":354.6},
{"p":"d","t":"0 s","x":683.01,"f":346.2,"b":338.5,"s":350.7},
{"p":"d","t":"0 s","x":682.62,"f":342.4,"b":338.6,"s":340.1},
{"p":"d","t":"0 s","x":682,"f":340,"b":338.7,"s":343.3},
{"p":"d","t":"30 s","x":688.87,"f":255.7,"b":253.7,"s":253.2},
{"p":"d","t":"30 s","x":688.36,"f":256.4,"b":254,"s":257.4},
{"p":"d","t":"30 s","x":687.81,"f":257.9,"b":254.2,"s":261.9},
{"p":"d","t":"30 s","x":687.26,"f":261.1,"b":254.5,"s":256.6},
{"p":"d","t":"30 s","x":686.88,"f":265.5,"b":254.7,"s":267.7},
{"p":"d","t":"30 s","x":686.49,"f":272.7,"b":254.8,"s":278.2},
{"p":"d","t":"30 s","x":686.16,"f":281.5,"b":255,"s":279.8},
{"p":"d","t":"30 s","x":685.83,"f":291.9,"b":255.2,"s":294.7},
{"p":"d","t":"30 s","x":685.45,"f":303.4,"b":255.3,"s":299.9},
{"p":"d","t":"30 s","x":685.06,"f":308.5,"b":255.5,"s":310},
{"p":"d","t":"30 s","x":684.68,"f":304.2,"b":255.7,"s":308.7},
{"p":"d","t":"30 s","x":684.29,"f":293.3,"b":255.9,"s":291.1},
{"p":"d","t":"30 s","x":683.96,"f":282.6,"b":256.1,"s":285.8},
{"p":"d","t":"30 s","x":683.63,"f":273.1,"b":256.2,"s":274.4},
{"p":"d","t":"30 s","x":683.25,"f":265.4,"b":256.4,"s":262.6},
{"p":"d","t":"30 s","x":682.86,"f":261,"b":256.6,"s":263},
{"p":"d","t":"30 s","x":682.31,"f":258.5,"b":256.9,"s":255.5},
{"p":"d","t":"30 s","x":682,"f":258.2,"b":257,"s":261.9},
{"p":"d","t":"60 s","x":689.1,"f":183.5,"b":182,"s":189},
{"p":"d","t":"60 s","x":688.14,"f":183.7,"b":181.3,"s":182},
{"p":"d","t":"60 s","x":687.59,"f":184.5,"b":180.9,"s":187.3},
{"p":"d","t":"60 s","x":687.04,"f":187,"b":180.6,"s":183.5},
{"p":"d","t":"60 s","x":686.66,"f":190.9,"b":180.3,"s":192.4},
{"p":"d","t":"60 s","x":686.27,"f":197.6,"b":180,"s":202.1},
{"p":"d","t":"60 s","x":685.94,"f":205.8,"b":179.8,"s":203.5},
{"p":"d","t":"60 s","x":685.61,"f":215.6,"b":179.5,"s":218.9},
{"p":"d","t":"60 s","x":685.23,"f":226.4,"b":179.3,"s":227.6},
{"p":"d","t":"60 s","x":684.84,"f":231,"b":179,"s":228.3},
{"p":"d","t":"60 s","x":684.46,"f":226.3,"b":178.7,"s":228.3},
{"p":"d","t":"60 s","x":684.07,"f":215.2,"b":178.5,"s":212.2},
{"p":"d","t":"60 s","x":683.74,"f":204.2,"b":178.2,"s":208},
{"p":"d","t":"60 s","x":683.41,"f":194.6,"b":178,"s":193.1},
{"p":"d","t":"60 s","x":683.03,"f":186.5,"b":177.7,"s":191.5},
{"p":"d","t":"60 s","x":682.64,"f":181.8,"b":177.5,"s":179.3},
{"p":"d","t":"60 s","x":682,"f":178.6,"b":177,"s":179.6},
{"p":"d","t":"180 s","x":688.95,"f":93,"b":91.3,"s":97.5},
{"p":"d","t":"180 s","x":688.04,"f":94,"b":91.3,"s":91.8},
{"p":"d","t":"180 s","x":687.49,"f":95.4,"b":91.3,"s":98.6},
{"p":"d","t":"180 s","x":686.94,"f":98.6,"b":91.3,"s":99.9},
{"p":"d","t":"180 s","x":686.56,"f":103.4,"b":91.3,"s":100.6},
{"p":"d","t":"180 s","x":686.17,"f":111.2,"b":91.3,"s":113.2},
{"p":"d","t":"180 s","x":685.84,"f":120.8,"b":91.3,"s":117.8},
{"p":"d","t":"180 s","x":685.51,"f":132.2,"b":91.3,"s":136},
{"p":"d","t":"180 s","x":685.13,"f":144.8,"b":91.3,"s":143.3},
{"p":"d","t":"180 s","x":684.74,"f":150.3,"b":91.3,"s":155.3},
{"p":"d","t":"180 s","x":684.36,"f":145.3,"b":91.3,"s":142.8},
{"p":"d","t":"180 s","x":683.97,"f":133,"b":91.3,"s":134},
{"p":"d","t":"180 s","x":683.64,"f":120.8,"b":91.3,"s":124.8},
{"p":"d","t":"180 s","x":683.31,"f":110.1,"b":91.3,"s":105.6},
{"p":"d","t":"180 s","x":682.93,"f":101.3,"b":91.3,"s":103.5},
{"p":"d","t":"180 s","x":682.54,"f":96.2,"b":91.3,"s":101.7},
{"p":"d","t":"180 s","x":682,"f":93.2,"b":91.3,"s":91.4},
{"p":"d","t":"360 s","x":688.34,"f":22.5,"b":20.3,"s":21},
{"p":"d","t":"360 s","x":687.59,"f":23,"b":19.5,"s":28},
{"p":"d","t":"360 s","x":687.04,"f":25.2,"b":19,"s":22.7},
{"p":"d","t":"360 s","x":686.66,"f":28.8,"b":18.6,"s":29.8},
{"p":"d","t":"360 s","x":686.27,"f":35.1,"b":18.2,"s":39.1},
{"p":"d","t":"360 s","x":685.94,"f":43,"b":17.8,"s":38.5},
{"p":"d","t":"360 s","x":685.61,"f":52.4,"b":17.5,"s":54.6},
{"p":"d","t":"360 s","x":685.23,"f":62.6,"b":17.1,"s":68.1},
{"p":"d","t":"360 s","x":684.84,"f":67,"b":16.7,"s":65.2},
{"p":"d","t":"360 s","x":684.46,"f":62.3,"b":16.3,"s":65},
{"p":"d","t":"360 s","x":684.07,"f":51.4,"b":15.9,"s":47.9},
{"p":"d","t":"360 s","x":683.74,"f":40.7,"b":15.5,"s":42.2},
{"p":"d","t":"360 s","x":683.41,"f":31.2,"b":15.2,"s":35.7},
{"p":"d","t":"360 s","x":683.03,"f":23.3,"b":14.8,"s":21},
{"p":"d","t":"360 s","x":682.64,"f":18.6,"b":14.4,"s":21.8},
{"p":"d","t":"360 s","x":682,"f":15.2,"b":13.7,"s":16.5}
]},
"concat":[
{"width":232,"height":404,
 "layer":[
  {"layer":[
   {"data":{"name":"fit"},"transform":[{"filter":"datum.p=='a'"}],"mark":{"type":"area","interpolate":"monotone","color":"#f9d4e7"},
    "encoding":{"x":{"field":"x","type":"quantitative","scale":{"domain":[692,682],"nice":false,"zero":false},"axis":{"values":[692,690,688,686,684,682],"format":"d","tickSize":-5,"tickWidth":1.5,"labelPadding":16,"labelFlush":false,"labelOverlap":false,"title":"Binding Energy / eV","titlePadding":2}},
     "y":{"field":"f","type":"quantitative","scale":{"domain":[0,404],"nice":false,"zero":false},"axis":{"ticks":false,"labels":false,"title":"Intensity / a.u.","titlePadding":15}},
     "y2":{"field":"b"},"detail":{"field":"t"}}},
   {"data":{"name":"fit"},"transform":[{"filter":"datum.p=='a'"}],"mark":{"type":"line","interpolate":"monotone","color":"#d6509e","strokeWidth":1},
    "encoding":{"x":{"field":"x","type":"quantitative"},"y":{"field":"b","type":"quantitative"},"detail":{"field":"t"}}},
   {"data":{"name":"fit"},"transform":[{"filter":"datum.p=='a'"}],"mark":{"type":"line","interpolate":"monotone","color":"#d6509e","strokeWidth":1.4},
    "encoding":{"x":{"field":"x","type":"quantitative"},"y":{"field":"f","type":"quantitative"},"detail":{"field":"t"}}},
   {"data":{"name":"fit"},"transform":[{"filter":"datum.p=='a'"}],"mark":{"type":"point","shape":"circle","size":6,"filled":false,"color":"#555","strokeWidth":0.6},
    "encoding":{"x":{"field":"x","type":"quantitative"},"y":{"field":"s","type":"quantitative"}}},
   {"data":{"name":"pts"},"transform":[{"filter":"datum.p=='a'"}],"mark":{"type":"point","shape":"circle","size":6,"filled":false,"color":"#555","strokeWidth":0.6},
    "encoding":{"x":{"field":"x","type":"quantitative"},"y":{"field":"y","type":"quantitative"}}},
   {"data":{"values":[{}]},"mark":{"type":"rule","color":"#333","strokeWidth":1.3,"strokeDash":[3,2],"clip":false},
    "encoding":{"x":{"datum":685.23},"x2":{"datum":685.08},"y":{"datum":426},"y2":{"datum":-50}}},
   {"data":{"name":"times"},"mark":{"type":"text","align":"left","baseline":"alphabetic","fontSize":16.5},
    "encoding":{"x":{"field":"x","type":"quantitative"},"y":{"field":"y","type":"quantitative"},"text":{"field":"t"}}},
   {"data":{"values":[{}]},"mark":{"type":"text","text":"a","fontSize":35,"align":"center","baseline":"alphabetic","clip":false},
    "encoding":{"x":{"datum":692.8},"y":{"datum":380.5}}},
   {"data":{"values":[{}]},"mark":{"type":"text","text":"LiF","fontSize":20,"align":"center","baseline":"alphabetic","clip":false},
    "encoding":{"x":{"datum":685.2},"y":{"datum":420}}}
  ]},
  {"data":{"values":[{}]},"mark":{"type":"rule","opacity":0},"encoding":{"x":{"datum":687,"axis":{"orient":"bottom","values":[691,689,687,685,683],"labels":false,"title":null,"tickSize":-3,"tickWidth":1.2}}}}
 ],
 "resolve":{"axis":{"x":"independent"}}},
{"width":232,"height":404,
 "layer":[
  {"layer":[
   {"data":{"name":"fit"},"transform":[{"filter":"datum.p=='b'"}],"mark":{"type":"area","interpolate":"monotone","color":"#f9d4e7"},
    "encoding":{"x":{"field":"x","type":"quantitative","scale":{"domain":[692,682],"nice":false,"zero":false},"axis":{"values":[692,690,688,686,684,682],"format":"d","tickSize":-5,"tickWidth":1.5,"labelPadding":16,"labelFlush":false,"labelOverlap":false,"title":"Binding Energy / eV","titlePadding":2}},
     "y":{"field":"f","type":"quantitative","scale":{"domain":[0,404],"nice":false,"zero":false},"axis":{"ticks":false,"labels":false,"title":"Intensity / a.u.","titlePadding":15}},
     "y2":{"field":"b"},"detail":{"field":"t"}}},
   {"data":{"name":"fit"},"transform":[{"filter":"datum.p=='b'"}],"mark":{"type":"line","interpolate":"monotone","color":"#d6509e","strokeWidth":1},
    "encoding":{"x":{"field":"x","type":"quantitative"},"y":{"field":"b","type":"quantitative"},"detail":{"field":"t"}}},
   {"data":{"name":"fit"},"transform":[{"filter":"datum.p=='b'"}],"mark":{"type":"line","interpolate":"monotone","color":"#d6509e","strokeWidth":1.4},
    "encoding":{"x":{"field":"x","type":"quantitative"},"y":{"field":"f","type":"quantitative"},"detail":{"field":"t"}}},
   {"data":{"name":"fit"},"transform":[{"filter":"datum.p=='b'"}],"mark":{"type":"point","shape":"circle","size":6,"filled":false,"color":"#555","strokeWidth":0.6},
    "encoding":{"x":{"field":"x","type":"quantitative"},"y":{"field":"s","type":"quantitative"}}},
   {"data":{"name":"pts"},"transform":[{"filter":"datum.p=='b'"}],"mark":{"type":"point","shape":"circle","size":6,"filled":false,"color":"#555","strokeWidth":0.6},
    "encoding":{"x":{"field":"x","type":"quantitative"},"y":{"field":"y","type":"quantitative"}}},
   {"data":{"values":[{}]},"mark":{"type":"rule","color":"#333","strokeWidth":1.3,"strokeDash":[3,2],"clip":false},
    "encoding":{"x":{"datum":685.07},"x2":{"datum":685.07},"y":{"datum":426},"y2":{"datum":-50}}},
   {"data":{"name":"times"},"mark":{"type":"text","align":"left","baseline":"alphabetic","fontSize":16.5},
    "encoding":{"x":{"field":"x","type":"quantitative"},"y":{"field":"y","type":"quantitative"},"text":{"field":"t"}}},
   {"data":{"values":[{}]},"mark":{"type":"text","text":"b","fontSize":35,"align":"center","baseline":"alphabetic","clip":false},
    "encoding":{"x":{"datum":693.0},"y":{"datum":380.5}}},
   {"data":{"values":[{}]},"mark":{"type":"text","text":"LiF","fontSize":20,"align":"center","baseline":"alphabetic","clip":false},
    "encoding":{"x":{"datum":685.07},"y":{"datum":420}}},
   {"data":{"values":[{}]},"mark":{"type":"text","text":"F","fontSize":20,"align":"left","baseline":"alphabetic","clip":false},
    "encoding":{"x":{"datum":691.66},"y":{"datum":421}}}
  ]},
  {"data":{"values":[{}]},"mark":{"type":"rule","opacity":0},"encoding":{"x":{"datum":687,"axis":{"orient":"bottom","values":[691,689,687,685,683],"labels":false,"title":null,"tickSize":-3,"tickWidth":1.2}}}}
 ],
 "resolve":{"axis":{"x":"independent"}}},
{"width":232,"height":404,
 "layer":[
  {"layer":[
   {"data":{"name":"fit"},"transform":[{"filter":"datum.p=='c'"}],"mark":{"type":"area","interpolate":"monotone","color":"#f9d4e7"},
    "encoding":{"x":{"field":"x","type":"quantitative","scale":{"domain":[692,682],"nice":false,"zero":false},"axis":{"values":[692,690,688,686,684,682],"format":"d","tickSize":-5,"tickWidth":1.5,"labelPadding":16,"labelFlush":false,"labelOverlap":false,"title":"Binding Energy / eV","titlePadding":2}},
     "y":{"field":"f","type":"quantitative","scale":{"domain":[0,404],"nice":false,"zero":false},"axis":{"ticks":false,"labels":false,"title":"Intensity / a.u.","titlePadding":15}},
     "y2":{"field":"b"},"detail":{"field":"t"}}},
   {"data":{"name":"fit"},"transform":[{"filter":"datum.p=='c'"}],"mark":{"type":"area","interpolate":"monotone","color":"#f9cfa9","opacity":0.65},
    "encoding":{"x":{"field":"x","type":"quantitative"},"y":{"field":"o","type":"quantitative"},"y2":{"field":"b"},"detail":{"field":"t"}}},
   {"data":{"name":"fit"},"transform":[{"filter":"datum.p=='c'"}],"mark":{"type":"line","interpolate":"monotone","color":"#f0a54a","strokeWidth":0.9},
    "encoding":{"x":{"field":"x","type":"quantitative"},"y":{"field":"o","type":"quantitative"},"detail":{"field":"t"}}},
   {"data":{"name":"bg"},"mark":{"type":"line","color":"#f0a54a","strokeWidth":1},
    "encoding":{"x":{"field":"x","type":"quantitative"},"y":{"field":"g","type":"quantitative"},"detail":{"field":"t"}}},
   {"data":{"name":"fit"},"transform":[{"filter":"datum.p=='c'"}],"mark":{"type":"line","interpolate":"monotone","color":"#d6509e","strokeWidth":1},
    "encoding":{"x":{"field":"x","type":"quantitative"},"y":{"field":"b","type":"quantitative"},"detail":{"field":"t"}}},
   {"data":{"name":"fit"},"transform":[{"filter":"datum.p=='c'"}],"mark":{"type":"line","interpolate":"monotone","color":"#d6509e","strokeWidth":1.3},
    "encoding":{"x":{"field":"x","type":"quantitative"},"y":{"field":"f","type":"quantitative"},"detail":{"field":"t"}}},
   {"data":{"name":"fit"},"transform":[{"filter":"datum.p=='c'"}],"mark":{"type":"line","interpolate":"monotone","color":"#d81f3d","strokeWidth":1.6},
    "encoding":{"x":{"field":"x","type":"quantitative"},"y":{"field":"e","type":"quantitative"},"detail":{"field":"t"}}},
   {"data":{"name":"fit"},"transform":[{"filter":"datum.p=='c'"}],"mark":{"type":"point","shape":"circle","size":6,"filled":false,"color":"#555","strokeWidth":0.6},
    "encoding":{"x":{"field":"x","type":"quantitative"},"y":{"field":"s","type":"quantitative"}}},
   {"data":{"name":"pts"},"transform":[{"filter":"datum.p=='c'"}],"mark":{"type":"point","shape":"circle","size":6,"filled":false,"color":"#555","strokeWidth":0.6},
    "encoding":{"x":{"field":"x","type":"quantitative"},"y":{"field":"y","type":"quantitative"}}},
   {"data":{"values":[{}]},"mark":{"type":"rule","color":"#333","strokeWidth":1.3,"strokeDash":[3,2],"clip":false},
    "encoding":{"x":{"datum":685.08},"x2":{"datum":684.97},"y":{"datum":404},"y2":{"datum":5}}},
   {"data":{"name":"times"},"mark":{"type":"text","align":"left","baseline":"alphabetic","fontSize":16.5},
    "encoding":{"x":{"field":"x","type":"quantitative"},"y":{"field":"y","type":"quantitative"},"text":{"field":"t"}}},
   {"data":{"values":[{}]},"mark":{"type":"text","text":"c","fontSize":35,"align":"center","baseline":"alphabetic","clip":false},
    "encoding":{"x":{"datum":693.1},"y":{"datum":390}}}
  ]},
  {"data":{"values":[{}]},"mark":{"type":"rule","opacity":0},"encoding":{"x":{"datum":687,"axis":{"orient":"bottom","values":[691,689,687,685,683],"labels":false,"title":null,"tickSize":-3,"tickWidth":1.2}}}}
 ],
 "resolve":{"axis":{"x":"independent"}}},
{"width":232,"height":404,
 "layer":[
  {"layer":[
   {"data":{"name":"fit"},"transform":[{"filter":"datum.p=='d'"}],"mark":{"type":"area","interpolate":"monotone","color":"#f9d4e7"},
    "encoding":{"x":{"field":"x","type":"quantitative","scale":{"domain":[692,682],"nice":false,"zero":false},"axis":{"values":[692,690,688,686,684,682],"format":"d","tickSize":-5,"tickWidth":1.5,"labelPadding":16,"labelFlush":false,"labelOverlap":false,"title":"Binding Energy / eV","titlePadding":2}},
     "y":{"field":"f","type":"quantitative","scale":{"domain":[0,404],"nice":false,"zero":false},"axis":{"ticks":false,"labels":false,"title":"Intensity / a.u.","titlePadding":15}},
     "y2":{"field":"b"},"detail":{"field":"t"}}},
   {"data":{"name":"fit"},"transform":[{"filter":"datum.p=='d'"}],"mark":{"type":"line","interpolate":"monotone","color":"#d6509e","strokeWidth":1},
    "encoding":{"x":{"field":"x","type":"quantitative"},"y":{"field":"b","type":"quantitative"},"detail":{"field":"t"}}},
   {"data":{"name":"fit"},"transform":[{"filter":"datum.p=='d'"}],"mark":{"type":"line","interpolate":"monotone","color":"#d6509e","strokeWidth":1.4},
    "encoding":{"x":{"field":"x","type":"quantitative"},"y":{"field":"f","type":"quantitative"},"detail":{"field":"t"}}},
   {"data":{"name":"fit"},"transform":[{"filter":"datum.p=='d'"}],"mark":{"type":"point","shape":"circle","size":6,"filled":false,"color":"#555","strokeWidth":0.6},
    "encoding":{"x":{"field":"x","type":"quantitative"},"y":{"field":"s","type":"quantitative"}}},
   {"data":{"name":"pts"},"transform":[{"filter":"datum.p=='d'"}],"mark":{"type":"point","shape":"circle","size":6,"filled":false,"color":"#555","strokeWidth":0.6},
    "encoding":{"x":{"field":"x","type":"quantitative"},"y":{"field":"y","type":"quantitative"}}},
   {"data":{"values":[{}]},"mark":{"type":"rule","color":"#333","strokeWidth":1.3,"strokeDash":[3,2],"clip":false},
    "encoding":{"x":{"datum":685.07},"x2":{"datum":685.03},"y":{"datum":404},"y2":{"datum":5}}},
   {"data":{"name":"times"},"mark":{"type":"text","align":"left","baseline":"alphabetic","fontSize":16.5},
    "encoding":{"x":{"field":"x","type":"quantitative"},"y":{"field":"y","type":"quantitative"},"text":{"field":"t"}}},
   {"data":{"values":[{}]},"mark":{"type":"text","text":"d","fontSize":35,"align":"center","baseline":"alphabetic","clip":false},
    "encoding":{"x":{"datum":692.99},"y":{"datum":392}}},
   {"data":{"values":[{}]},"mark":{"type":"text","text":"F","fontSize":20,"align":"left","baseline":"alphabetic","clip":false},
    "encoding":{"x":{"datum":691.44},"y":{"datum":424}}}
  ]},
  {"data":{"values":[{}]},"mark":{"type":"rule","opacity":0},"encoding":{"x":{"datum":687,"axis":{"orient":"bottom","values":[691,689,687,685,683],"labels":false,"title":null,"tickSize":-3,"tickWidth":1.2}}}}
 ],
 "resolve":{"axis":{"x":"independent"}}},
{"width":232,"height":40,"view":{"stroke":null},
 "data":{"values":[{"name":"FEC"}]},
 "layer":[
  {"mark":{"type":"rect","color":"#c6f6f6","cornerRadius":9,"clip":false},
   "encoding":{"x":{"datum":0.4,"scale":{"domain":[0,100]},"axis":null},"x2":{"datum":102.2},"y":{"datum":-30,"scale":{"domain":[0,40]},"axis":null},"y2":{"datum":44}}},
  {"mark":{"type":"text","fontSize":25,"align":"center","baseline":"alphabetic"},
   "encoding":{"x":{"datum":51.3,"axis":null},"y":{"datum":12,"axis":null},"text":{"field":"name"}}}
 ]},
{"width":232,"height":40,"view":{"stroke":null},
 "data":{"values":[{"name":"FEC-LiNO₃"}]},
 "layer":[
  {"mark":{"type":"rect","color":"#fccaca","cornerRadius":9,"clip":false},
   "encoding":{"x":{"datum":1.3,"scale":{"domain":[0,100]},"axis":null},"x2":{"datum":103.4},"y":{"datum":-30,"scale":{"domain":[0,40]},"axis":null},"y2":{"datum":44}}},
  {"mark":{"type":"text","fontSize":25,"align":"center","baseline":"alphabetic"},
   "encoding":{"x":{"datum":52.35,"axis":null},"y":{"datum":12,"axis":null},"text":{"field":"name"}}}
 ]}
]
}
